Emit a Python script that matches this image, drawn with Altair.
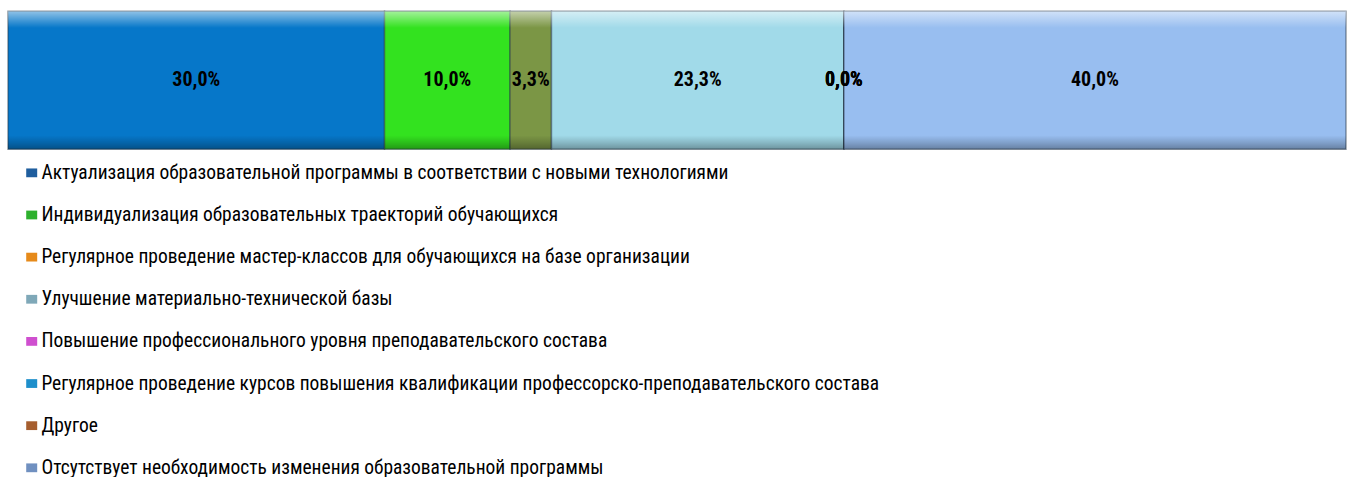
import altair as alt
import pandas as pd

categories = [
    "Актуализация образовательной программы в соответствии с новыми технологиями",
    "Индивидуализация образовательных траекторий обучающихся",
    "Регулярное проведение мастер-классов для обучающихся на базе организации",
    "Улучшение материально-технической базы",
    "Повышение профессионального уровня преподавательского состава",
    "Регулярное проведение курсов повышения квалификации профессорско-преподавательского состава",
    "Другое",
    "Отсутствует необходимость изменения образовательной программы",
]
values = [30.0, 10.0, 3.3, 23.3, 0.0, 0.0, 0.0, 40.0]
bar_colors = ["#0677C9", "#33E21F", "#7B9645", "#A1DAE9", "#C84BC8", "#2E9BD6", "#A0602E", "#98BEF0"]
legend_colors = ["#1F5E9E", "#2DB02D", "#E68A1A", "#7FA8B8", "#CF4FCF", "#1E8FCB", "#A65E2E", "#7090C0"]

df = pd.DataFrame({
    "category": categories,
    "value": values,
    "idx": list(range(len(categories))),
    "bar_color": bar_colors,
    "row": ["all"] * len(categories),
})
total = sum(values)

FONT = "Liberation Sans Narrow, Arial Narrow, Roboto Condensed, DejaVu Sans Condensed, sans-serif"
xscale = alt.Scale(domain=[0, total], nice=False, zero=True)
yscale = alt.Scale(paddingInner=0, paddingOuter=0)

bevel = {
    "gradient": "linear", "x1": 0, "x2": 0, "y1": 0, "y2": 1,
    "stops": [
        {"offset": 0.0, "color": "rgba(255,255,255,0.55)"},
        {"offset": 0.08, "color": "rgba(255,255,255,0.18)"},
        {"offset": 0.12, "color": "rgba(255,255,255,0)"},
        {"offset": 0.9, "color": "rgba(0,0,0,0)"},
        {"offset": 0.95, "color": "rgba(0,0,0,0.15)"},
        {"offset": 1.0, "color": "rgba(0,0,0,0.32)"},
    ],
}

bars = alt.Chart(df).mark_bar(stroke="#2a3a4a", strokeOpacity=0.5, strokeWidth=1.5).encode(
    x=alt.X("value:Q", stack="zero", scale=xscale, axis=None),
    y=alt.Y("row:N", scale=yscale, axis=None),
    fill=alt.Fill("bar_color:N", scale=None),
    order=alt.Order("idx:Q"),
)

shine = alt.Chart(df).mark_bar(fill=bevel, strokeWidth=0).encode(
    x=alt.X("value:Q", stack="zero", scale=xscale, axis=None),
    y=alt.Y("row:N", scale=yscale, axis=None),
    order=alt.Order("idx:Q"),
)

labels = alt.Chart(df).transform_stack(
    stack="value", as_=["x0", "x1"], groupby=[], sort=[alt.SortField("idx", "ascending")]
).transform_calculate(
    mid="(datum.x0 + datum.x1) / 2",
    label="replace(format(datum.value, '.1f'), '.', ',') + '%'",
).mark_text(font=FONT, fontSize=20, fontWeight="bold", color="#000000").encode(
    x=alt.X("mid:Q", scale=xscale, axis=None),
    y=alt.Y("row:N", scale=yscale, axis=None),
    text="label:N",
)

legend_layer = alt.Chart(df).transform_filter("false").mark_square().encode(
    color=alt.Color(
        "category:N",
        scale=alt.Scale(domain=categories, range=legend_colors),
        legend=alt.Legend(
            title=None,
            orient="none",
            legendX=14,
            legendY=152,
            direction="vertical",
            labelFont=FONT,
            labelFontSize=19.5,
            labelColor="#000000",
            labelLimit=1300,
            labelOffset=0,
            rowPadding=21.2,
            padding=0,
            symbolType="M-1,-0.8L1,-0.8L1,0.8L-1,0.8Z",
            symbolSize=121,
            symbolOpacity=1,
            symbolStrokeWidth=0,
        ),
    ),
)

chart = alt.layer(bars, shine, labels, legend_layer).properties(
    width=1340,
    height=138,
    padding={"left": 7, "top": 10, "right": 1, "bottom": 0},
).configure_view(stroke=None)

chart.save("out.html", embed_options={"renderer": "svg", "actions": False})
